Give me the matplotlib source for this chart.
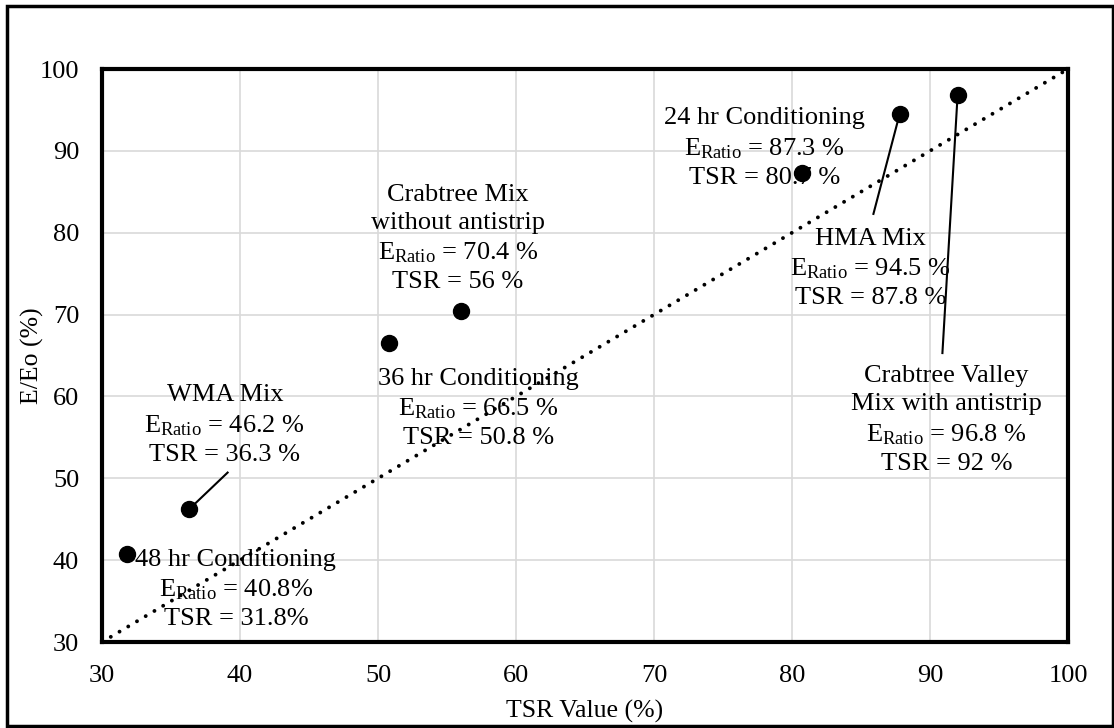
import matplotlib
matplotlib.use('Agg')
import matplotlib.pyplot as plt
from matplotlib.patches import Rectangle

plt.rcParams['font.family'] = ['Liberation Serif', 'DejaVu Serif']
plt.rcParams['mathtext.fontset'] = 'custom'
plt.rcParams['mathtext.rm'] = 'Liberation Serif'
plt.rcParams['mathtext.it'] = 'Liberation Serif:italic'

# data
tsr = [31.8, 36.3, 50.8, 56.0, 80.7, 87.8, 92.0]
e_ratio = [40.8, 46.2, 66.5, 70.4, 87.3, 94.5, 96.8]

names = ['48 hr Conditioning', 'WMA Mix', '36 hr Conditioning',
         'Crabtree Mix\nwithout antistrip', '24 hr Conditioning',
         'HMA Mix', 'Crabtree Valley\nMix with antistrip']
e_txt = ['40.8%', '46.2 %', '66.5 %', '70.4 %', '87.3 %', '94.5 %', '96.8 %']
t_txt = ['31.8%', '36.3 %', '50.8 %', '56 %', '80.7 %', '87.8 %', '92 %']

# label anchor (center x, top y) in data units
lab_x = [39.7, 38.9, 57.3, 55.8, 78.0, 85.7, 91.2]
lab_y = [41.4, 61.5, 63.5, 86.0, 95.3, 80.6, 63.8]

# leader lines: index -> end point of line
leaders = {1: (39.1, 50.7), 5: (85.9, 82.3), 6: (90.9, 65.3)}

fig = plt.figure(figsize=(11.14, 7.28), dpi=100)
ax = fig.add_axes([0.0916, 0.1181, 0.8671, 0.7871])

ax.set_xlim(30, 100)
ax.set_ylim(30, 100)
ax.set_xticks(range(30, 101, 10))
ax.set_yticks(range(30, 101, 10))
ax.grid(True, color='#d9d9d9', lw=1.2)
ax.set_axisbelow(True)
for s in ax.spines.values():
    s.set_linewidth(3)
ax.tick_params(length=0, labelsize=19, pad=16.5)

# 1:1 line
ax.plot([30, 100], [30, 100], color='black', ls=(0, (0.01, 2.6)), lw=2.8,
        dash_capstyle='round', zorder=2)

for i, (x, y) in leaders.items():
    ax.plot([tsr[i], x], [e_ratio[i], y], color='black', lw=1.5, zorder=3)

ax.plot(tsr, e_ratio, 'o', color='black', ms=11.5, zorder=4, clip_on=False)

for i in range(len(names)):
    txt = names[i] + '\nE$_{\\mathrm{Ratio}}$ = ' + e_txt[i] + '\nTSR = ' + t_txt[i]
    ax.text(lab_x[i], lab_y[i], txt, ha='center', va='top',
            multialignment='center', fontsize=19, linespacing=1.36, zorder=5)

ax.set_xlabel('TSR Value (%)', fontsize=18.5, va='center')
ax.set_ylabel('E/Eo (%)', fontsize=18.5, va='center')
ax.xaxis.set_label_coords(0.5, -0.1204)
ax.yaxis.set_label_coords(-0.0725, 0.499)

fig.patches.append(Rectangle((0.0065, 0.003), 0.9925, 0.989,
                             transform=fig.transFigure, fill=False,
                             edgecolor='black', lw=2.5))

fig.savefig('out.png', dpi=100)
